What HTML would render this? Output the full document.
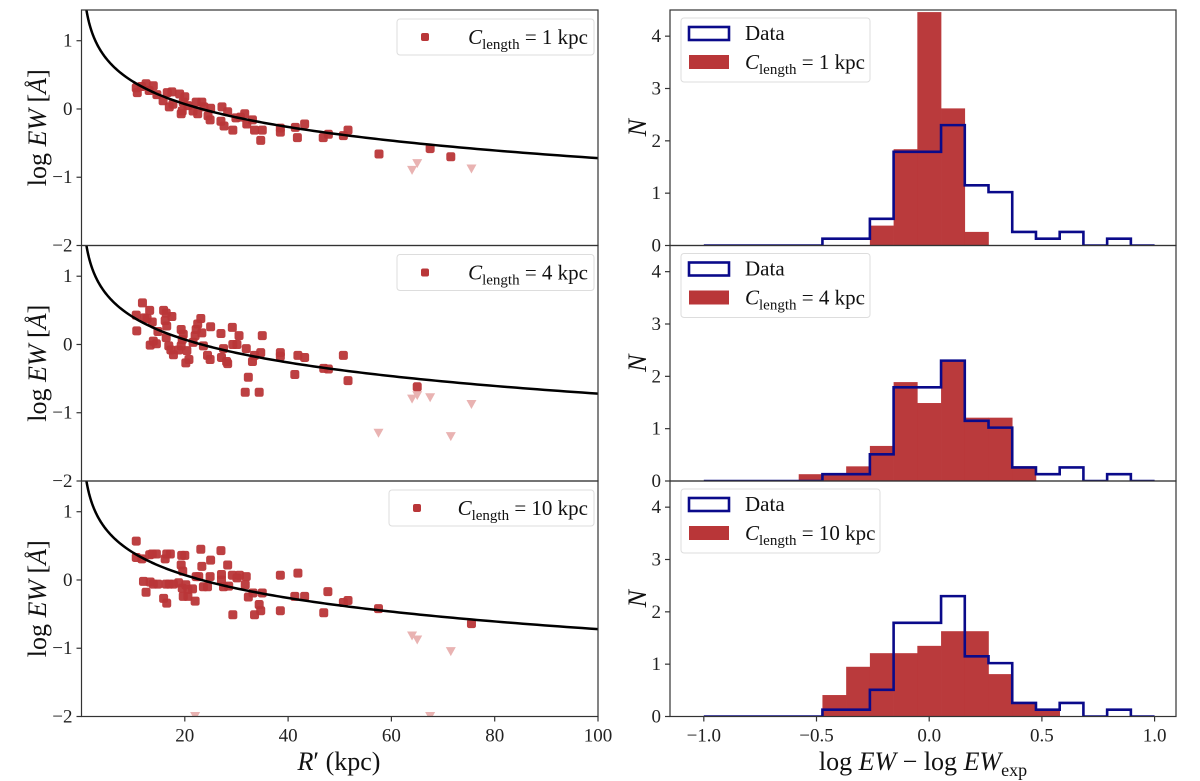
<!DOCTYPE html>
<html><head><meta charset="utf-8"><style>
html,body{margin:0;padding:0;background:#fff;}
svg{display:block;font-family:"Liberation Serif","DejaVu Serif",serif;}
</style></head><body>
<svg id="fig" width="1200" height="781" viewBox="0 0 1200 781" xmlns="http://www.w3.org/2000/svg"></svg>
<script>
// ---------- DATA ----------
const curveA = 1.43, curveB = -0.985, curveC = -0.045; // model: y = A + B*log10(R) + C*log10(R)^2
const p1R = [10.6,10.8,11.6,12.5,13.9,13.1,14.6,15.8,16.6,17.5,17,17.7,19,20,19.7,20.6,19.5,19.3,21.6,22.2,23.3,23.7,22.5,25,24.5,24.9,27.2,28.3,27,27.6,29.3,29.9,30.8,31.6,32,33.1,33.5,35,34.7,38.5,38.5,41.4,43.2,41.8,46.8,47.8,50.7,51.6,57.6,67.5,71.5];
const p1Y = [0.31,0.24,0.33,0.37,0.34,0.27,0.21,0.12,0.24,0.25,0.03,0.07,0.22,0.18,0.1,0.05,-0.03,-0.07,-0.03,0.1,0.1,0.03,-0.07,0.01,-0.1,-0.16,0.03,-0.04,-0.18,-0.25,-0.31,-0.13,-0.12,-0.07,-0.22,-0.16,-0.31,-0.31,-0.46,-0.28,-0.34,-0.27,-0.22,-0.42,-0.42,-0.37,-0.39,-0.31,-0.66,-0.58,-0.7];
const p1UR = [64,65,75.5];
const p1UY = [-0.9,-0.8,-0.88];
const p2R = [10.6,10.7,11.8,12.2,12.7,13.2,13.7,13.3,13.9,14.5,14.8,15.9,16.4,17.5,16.2,16.5,16.4,16.9,17.3,17.8,18.8,19.3,19.7,19.5,19.3,20.4,20.2,20.8,22.2,22,22.5,23.1,23.3,21.6,23.6,24.4,24.9,25,27,27.1,27.5,28.3,28.1,29.2,29.3,30.1,30.5,31.9,32.3,31.7,33.1,33.5,34.7,35,34.4,38.5,38.5,41.3,41.9,43.2,46.9,47.8,50.7,51.6,65];
const p2Y = [0.43,0.2,0.61,0.39,0.38,0.5,0.33,-0.01,0.05,0.01,0.19,0.5,0.46,0.41,0.35,0.27,0.1,-0.02,-0.08,-0.15,-0.08,0.22,0.15,0.07,-0.02,-0.09,-0.27,-0.22,0.22,0.13,0.3,0.38,0.17,0.03,-0.02,-0.16,-0.22,0.26,0.16,-0.19,-0.06,-0.28,-0.25,0.25,0,0,0.13,-0.06,-0.48,-0.7,-0.25,-0.16,-0.12,0.13,-0.7,-0.12,-0.17,-0.44,-0.16,-0.19,-0.35,-0.36,-0.16,-0.53,-0.62];
const p2UR = [57.5,64,65,67.5,71.5,75.5];
const p2UY = [-1.3,-0.8,-0.75,-0.78,-1.35,-0.88];
const p3R = [10.6,10.6,11.7,12,12.5,13.2,13.7,14.5,13.3,13.9,14.8,15.9,16.5,16.2,16.5,17.2,16.4,17,17.8,18.8,19.3,19.6,19.4,20,19.5,20.2,19.7,20.6,20.6,21.5,22,22.2,22.7,23.1,23.3,23.6,24.4,24.9,25,27,27.1,27.1,27.5,28.3,28.5,29.3,29.2,30.1,30.6,31.9,31.7,32.3,33.2,33.5,34.4,34.7,35,38.5,38.5,41.3,41.9,43.2,46.9,47.7,50.7,51.6,57.5,75.5];
const p3Y = [0.57,0.33,0.31,-0.02,-0.18,0.37,0.38,0.38,-0.03,-0.06,-0.06,-0.27,-0.34,0.31,0.38,0.38,-0.06,-0.06,-0.06,-0.04,0.22,0.13,0.36,0.36,-0.12,-0.07,-0.24,-0.24,-0.14,-0.13,-0.31,0.05,0.05,0.45,0.2,-0.1,-0.1,0.05,0.29,0.43,0.08,0,-0.1,0.22,-0.09,-0.51,0.07,0.03,0.07,0.05,-0.07,-0.25,-0.19,-0.51,-0.36,-0.45,-0.19,0.07,-0.45,-0.24,0.1,-0.24,-0.48,-0.17,-0.33,-0.3,-0.42,-0.64];
const p3UR = [64,65,71.5,22,67.5];
const p3UY = [-0.82,-0.88,-1.05,-2.0,-2.0];
const binStart = -1.0, binWidth = 2/19;
const histData = [0,0,0,0,0,0.13,0.13,0.51,1.79,1.79,2.3,1.15,1.02,0.26,0.13,0.26,0,0.13,0];
const histM1 = [0,0,0,0,0,0,0,0.38,1.84,4.46,2.62,0.26,0,0,0,0,0,0,0];
const histM4 = [0,0,0,0,0.13,0.13,0.28,0.67,1.89,1.49,2.31,1.21,1.21,0.28,0,0,0,0,0];
const histM10 = [0,0,0,0,0,0.41,0.95,1.21,1.21,1.35,1.63,1.63,0.81,0.26,0.13,0,0,0,0];
const clens = ["1","4","10"];
const leftYTicks = [1,0,-1,-2];
const leftXTicks = [20,40,60,80,100];
const rightYTicks = [0,1,2,3,4];
const rightXTicks = [-1.0,-0.5,0.0,0.5,1.0];
const rightXTickLabels = ["−1.0","−0.5","0.0","0.5","1.0"];

// ---------- LAYOUT ----------
const NS="http://www.w3.org/2000/svg";
const svg=document.getElementById('fig');
const RED="#b93638", PINK="#e9b3b2", NAVY="#0a0a8a", AX="#333";
const tops=[10,245.5,481], H=235.5;
const LX0=81.5, LX1=598, RX0=670, RX1=1176;
const LYMIN=-2, LYMAX=1.45, RXMIN=-1.15, RXMAX=1.095, RYMAX=4.5;
function el(tag,attrs,parent){const e=document.createElementNS(NS,tag);for(const k in attrs)e.setAttribute(k,attrs[k]);(parent||svg).appendChild(e);return e;}
function lx(v){return LX0+(v-0)/(100-0)*(LX1-LX0);}
function ly(v,p){return tops[p]+H-(v-LYMIN)/(LYMAX-LYMIN)*H;}
function rx(v){return RX0+(v-RXMIN)/(RXMAX-RXMIN)*(RX1-RX0);}
function ry(v,p){return tops[p]+H-v/RYMAX*H;}

const defs=el('defs',{});
for(let p=0;p<3;p++){
  const c=el('clipPath',{id:'lc'+p},defs); el('rect',{x:LX0,y:tops[p],width:LX1-LX0,height:H},c);
  const d=el('clipPath',{id:'rc'+p},defs); el('rect',{x:RX0,y:tops[p],width:RX1-RX0,height:H},d);
}

const pts=[[p1R,p1Y,p1UR,p1UY],[p2R,p2Y,p2UR,p2UY],[p3R,p3Y,p3UR,p3UY]];
const models=[histM1,histM4,histM10];
const legSub='<tspan font-style="italic">C</tspan><tspan font-size="15" dy="5">length</tspan><tspan dy="-5"> = ';

for(let p=0;p<3;p++){
  const g=el('g',{'clip-path':'url(#lc'+p+')'});
  
  
  const [R,Y,UR,UY]=pts[p];
  for(let i=0;i<UR.length;i++){
    const x=lx(UR[i]), y=ly(UY[i],p);
    const t=el('path',{d:`M${x-5},${y-4.5} L${x+5},${y-4.5} L${x},${y+4.5} Z`,fill:PINK},g);
    
    
  }
  for(let i=0;i<R.length;i++){
    const m=el('rect',{x:lx(R[i])-4.5,y:ly(Y[i],p)-4.5,width:9,height:9,rx:2.2,fill:RED,'fill-opacity':0.95},g);
    
    
  }
  let d='';
  for(let k=0;k<=300;k++){
    const L=Math.log10(0.9)+k/300*(2-Math.log10(0.9));
    const r=Math.pow(10,L), v=curveA+curveB*L+curveC*L*L;
    d+=(k?'L':'M')+lx(r).toFixed(2)+','+ly(v,p).toFixed(2);
  }
  const cv=el('path',{d:d,fill:'none',stroke:'#000','stroke-width':2.5},g);
  
  
  const fr=el('rect',{x:LX0,y:tops[p],width:LX1-LX0,height:H,fill:'none',stroke:AX,'stroke-width':1.2});
  
  
  for(const t of leftYTicks){
    const y=ly(t,p);
    el('line',{x1:LX0-5,x2:LX0,y1:y,y2:y,stroke:AX,'stroke-width':1.2});
    const tx=el('text',{x:LX0-9,y:y+6,'font-size':19,'text-anchor':'end',fill:'#222'});
    tx.textContent=(t<0?'−':'')+Math.abs(t);
    
    
  }
  const yl=el('text',{x:0,y:0,'font-size':26,'text-anchor':'middle',fill:'#111',transform:`translate(46,${tops[p]+H/2}) rotate(-90)`});
  yl.innerHTML='log <tspan font-style="italic">EW</tspan> [<tspan font-style="italic">Å</tspan>]';
  
  
  const lg=el('g',{});
  
  
  const lw=p===2?205:197, lxl=594-lw, lyt=tops[p]+9;
  el('rect',{x:lxl,y:lyt,width:lw,height:36,rx:3,fill:'#fff',stroke:'#ddd','stroke-width':1},lg);
  el('rect',{x:lxl+24,y:lyt+14,width:8,height:8,rx:2,fill:RED},lg);
  const lt=el('text',{x:588,y:lyt+25,'font-size':21,'text-anchor':'end',fill:'#111'},lg);
  lt.innerHTML=legSub+clens[p]+' kpc</tspan>';

  const hg=el('g',{'clip-path':'url(#rc'+p+')'});
  
  
  const M=models[p];
  for(let i=0;i<M.length;i++){
    if(M[i]<=0) continue;
    const x0=rx(binStart+i*binWidth), x1=rx(binStart+(i+1)*binWidth);
    const b=el('rect',{x:x0,y:ry(M[i],p),width:x1-x0+0.3,height:ry(0,p)-ry(M[i],p),fill:RED,'fill-opacity':0.98},hg);
    
    
  }
  let sd='M'+rx(binStart)+','+ry(0,p);
  for(let i=0;i<histData.length;i++){
    const x0=rx(binStart+i*binWidth), x1=rx(binStart+(i+1)*binWidth), y=ry(histData[i],p);
    sd+=`L${x0},${y}L${x1},${y}`;
  }
  sd+='L'+rx(binStart+histData.length*binWidth)+','+ry(0,p);
  const st=el('path',{d:sd,fill:'none',stroke:NAVY,'stroke-width':2.6},hg);
  
  
  const rf=el('rect',{x:RX0,y:tops[p],width:RX1-RX0,height:H,fill:'none',stroke:AX,'stroke-width':1.2});
  
  
  for(const t of rightYTicks){
    const y=ry(t,p);
    el('line',{x1:RX0-5,x2:RX0,y1:y,y2:y,stroke:AX,'stroke-width':1.2});
    const tx=el('text',{x:RX0-9,y:y+6,'font-size':19,'text-anchor':'end',fill:'#222'});
    tx.textContent=t;
    
    
  }
  const nl=el('text',{x:0,y:0,'font-size':26,'font-style':'italic','text-anchor':'middle',fill:'#111',transform:`translate(646,${tops[p]+H/2}) rotate(-90)`});
  nl.textContent='N';
  
  
  const rg=el('g',{});
  
  
  const rw=p===2?199:189, ryt=tops[p]+8;
  el('rect',{x:681,y:ryt,width:rw,height:64,rx:3,fill:'#fff',stroke:'#ddd','stroke-width':1},rg);
  el('rect',{x:689,y:ryt+9,width:40,height:13,fill:'none',stroke:NAVY,'stroke-width':2.6},rg);
  const t1=el('text',{x:745,y:ryt+22,'font-size':21,fill:'#111'},rg); t1.textContent='Data';
  el('rect',{x:689,y:ryt+37,width:40,height:14,fill:RED},rg);
  const t2=el('text',{x:745,y:ryt+51,'font-size':21,fill:'#111'},rg);
  t2.innerHTML=legSub+clens[p]+' kpc</tspan>';
}
for(const t of leftXTicks){
  const x=lx(t);
  el('line',{x1:x,x2:x,y1:tops[2]+H,y2:tops[2]+H+5,stroke:AX,'stroke-width':1.2});
  const tx=el('text',{x:x,y:tops[2]+H+25,'font-size':19,'text-anchor':'middle',fill:'#222'});
  tx.textContent=t;
  
  
}
rightXTicks.forEach((t,i)=>{
  const x=rx(t);
  el('line',{x1:x,x2:x,y1:tops[2]+H,y2:tops[2]+H+5,stroke:AX,'stroke-width':1.2});
  const tx=el('text',{x:x,y:tops[2]+H+25,'font-size':19,'text-anchor':'middle',fill:'#222'});
  tx.textContent=rightXTickLabels[i];
  
  
});
const xl1=el('text',{x:339,y:770,'font-size':26,'text-anchor':'middle',fill:'#111'});
xl1.innerHTML='<tspan font-style="italic">R</tspan>′ (kpc)';


const xl2=el('text',{x:923,y:770,'font-size':26,'text-anchor':'middle',fill:'#111'});
xl2.innerHTML='log <tspan font-style="italic">EW</tspan> − log <tspan font-style="italic">EW</tspan><tspan font-size="18" dy="6">exp</tspan>';


</script>
</body></html>
